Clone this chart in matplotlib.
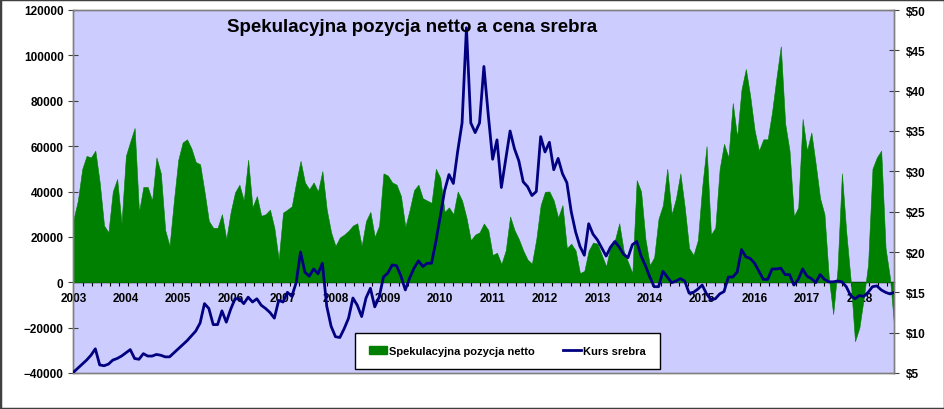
import numpy as np
import matplotlib.pyplot as plt
from matplotlib.ticker import FixedLocator, FuncFormatter, MultipleLocator
from matplotlib.patches import Patch, Rectangle
from matplotlib.lines import Line2D

plt.rcParams["font.family"] = ["Liberation Sans", "DejaVu Sans"]
plt.rcParams["font.weight"] = "bold"

# monthly readings, Jan 2003 .. Sep 2018
START_YEAR = 2003
net_position = [
    27800, 36000, 49900, 55700, 55000, 58000, 44000, 25000, 22000, 40000, 45500, 26000,
    55700, 62000, 68000, 31000, 42000, 42000, 36000, 55000, 48000, 23000, 16000, 36000,
    54000, 61600, 63000, 59000, 53000, 52000, 40000, 27000, 24000, 24000, 30000, 19000,
    31000, 39600, 43000, 36000, 54000, 33000, 38000, 29300, 30000, 32000, 24000, 10000,
    30700, 32000, 33500, 44000, 53500, 44000, 41000, 44000, 40000, 49000, 32000, 22000,
    16000, 19700, 21000, 22700, 25000, 26000, 16000, 27000, 31000, 20000, 25000, 48000,
    47000, 44000, 43000, 38000, 24400, 32000, 40600, 43000, 37000, 36000, 35000, 50000,
    46000, 31000, 33000, 30000, 40000, 36000, 28500, 18500, 21000, 22000, 25900, 23000,
    12000, 13000, 8000, 14000, 29000, 23000, 19000, 14000, 10000, 8200, 19000, 34000,
    39900, 40000, 36000, 28500, 34000, 15000, 17000, 14000, 4000, 5000, 14000, 17500,
    17000, 12000, 7000, 16000, 18500, 26000, 14000, 9000, 4000, 45000, 40000, 19000,
    7500, 11000, 28000, 34000, 50000, 30000, 37000, 48000, 33000, 15000, 12000, 18500,
    42000, 60000, 21000, 24000, 50000, 61000, 55000, 79000, 64000, 85000, 94000, 82000,
    67000, 58000, 63000, 63000, 75000, 90000, 104000, 70000, 58000, 29000, 33000, 72000,
    58000, 66000, 52000, 37000, 30000, 2000, -14000, 6000, 48000, 22000, 1000, -26000,
    -20000, -7000, 8000, 50000, 55000, 58000, 15000, 2000, -20000,
]
silver_price = [
    5.1, 5.6, 6.1, 6.6, 7.2, 8.0, 6.0, 5.9, 6.1, 6.6, 6.8, 7.1,
    7.5, 7.9, 6.8, 6.7, 7.4, 7.1, 7.1, 7.3, 7.2, 7.0, 7.0, 7.5,
    8.0, 8.5, 9.0, 9.6, 10.2, 11.2, 13.6, 13.0, 11.0, 11.0, 12.7, 11.3,
    12.9, 14.2, 14.2, 13.6, 14.4, 13.8, 14.2, 13.4, 13.0, 12.5, 11.8, 14.0,
    13.8, 15.0, 14.5, 16.2, 20.0, 17.5, 17.0, 17.9, 17.3, 18.6, 13.3, 10.8,
    9.5, 9.4, 10.5, 11.8, 14.3, 13.4, 12.0, 14.3, 15.5, 13.2, 14.4, 16.9,
    17.4, 18.4, 18.3, 17.0, 15.3, 16.8, 18.0, 18.9, 18.2, 18.6, 18.6, 21.3,
    24.4, 27.6, 29.6, 28.5, 32.5, 36.0, 47.8, 36.0, 34.8, 36.0, 43.0, 37.0,
    31.5, 33.9, 28.0, 31.5, 35.0, 32.8, 31.3, 28.7, 28.1, 27.0, 27.5, 34.3,
    32.4, 33.6, 30.2, 31.6, 29.7, 28.6, 25.0, 22.5, 20.7, 19.6, 23.5, 22.2,
    21.5, 20.5, 19.5, 20.6, 21.3, 20.6, 19.7, 19.3, 20.9, 21.3, 19.5, 18.3,
    16.9, 15.7, 15.7, 17.6, 16.9, 16.2, 16.4, 16.7, 16.4, 14.9, 15.0, 15.4,
    15.9, 14.8, 14.1, 14.2, 14.8, 15.1, 16.9, 16.9, 17.5, 20.3, 19.4, 19.2,
    18.6, 17.6, 16.6, 16.6, 17.9, 17.9, 18.0, 17.2, 17.2, 15.9, 16.6, 17.9,
    17.0, 16.7, 16.2, 17.2, 16.6, 16.3, 16.3, 16.4, 16.3, 15.7, 14.6, 14.2,
    14.6, 14.5, 15.0, 15.7, 15.8, 15.3, 15.0, 14.8, 15.0,
]
year_labels = [str(y) for y in range(2003, 2019)]

TITLE = "Spekulacyjna pozycja netto a cena srebra"
LABEL_NET = "Spekulacyjna pozycja netto"
LABEL_PRICE = "Kurs srebra"

GREEN = "#008000"
NAVY = "#000080"
PLOT_BG = "#CCCCFF"
FRAME = "#808080"
TICK = "#404040"

W, H = 945, 410
fig = plt.figure(figsize=(W / 100, H / 100), dpi=100)
ax = fig.add_axes([73.5 / W, 1 - 374 / H, (894.3 - 73.5) / W, (374 - 11) / H])
ax.set_facecolor(PLOT_BG)

x = START_YEAR + np.arange(len(net_position)) / 12
ax.fill_between(x, 0, net_position, color=GREEN, linewidth=0.4, edgecolor=GREEN, zorder=2)
ax.set_xlim(x[0], x[-1])
ax.set_ylim(-40000, 120000)
ax.yaxis.set_major_locator(MultipleLocator(20000))
ax.set_xticks([])
ax.tick_params(axis="y", direction="inout", length=7.5, width=0.8, color=TICK,
               labelsize=8.5, pad=3.4)
for s in ax.spines.values():
    s.set_color(FRAME)
    s.set_linewidth(1.0)

# x axis sits on the zero line
sec = ax.secondary_xaxis(0.25)
sec.set_xticks([int(y) for y in year_labels])
sec.set_xticklabels(year_labels)
sec.xaxis.set_minor_locator(FixedLocator(START_YEAR + np.arange(1, 100) * 9 / 52.18))
sec.tick_params(which="major", length=0, pad=7, labelsize=8.5)
sec.tick_params(which="minor", direction="out", length=3, width=0.8, color="black")
sec.spines["bottom"].set_color("black")
sec.spines["bottom"].set_linewidth(1.0)

ax2 = ax.twinx()
ax2.plot(x, silver_price, color=NAVY, linewidth=2.0, solid_joinstyle="round", zorder=3)
ax2.set_ylim(5, 50)
ax2.yaxis.set_major_locator(MultipleLocator(5))
ax2.yaxis.set_major_formatter(FuncFormatter(lambda v, p: f"${v:.0f}"))
ax2.tick_params(axis="y", direction="inout", length=6.5, width=0.8, color=TICK,
                labelsize=8.5, pad=5)
for s in ax2.spines.values():
    s.set_color(FRAME)
    s.set_linewidth(1.0)

fig.text(412 / W, 1 - 32 / H, TITLE, ha="center", va="baseline",
         fontsize=13.5, fontweight="bold")

handles = [Patch(facecolor=GREEN, edgecolor=GREEN),
           Line2D([0], [0], color=NAVY, linewidth=2.0)]
leg = fig.legend(handles, [LABEL_NET, LABEL_PRICE], loc="center",
                 bbox_to_anchor=(507.5 / W, 1 - 352 / H), ncol=2, fontsize=8,
                 frameon=True, fancybox=False, framealpha=1, edgecolor="black",
                 borderpad=1.2, handlelength=1.6, handletextpad=0.25,
                 columnspacing=2.5)
leg.get_frame().set_linewidth(1.0)

fig.patches.append(Rectangle((0, 0), 1, 1, transform=fig.transFigure, fill=False,
                             edgecolor="#404040", linewidth=2.5))

fig.savefig("out.png", dpi=100)
